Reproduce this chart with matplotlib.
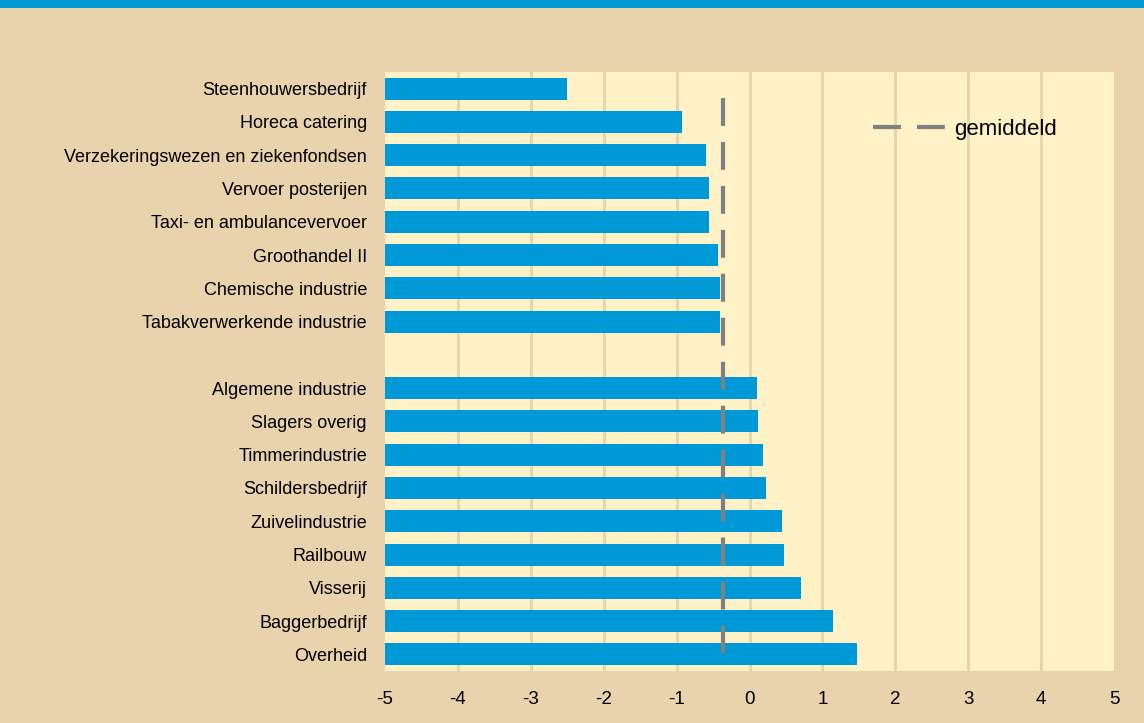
import matplotlib
matplotlib.use("Agg")
import matplotlib.pyplot as plt
from matplotlib.lines import Line2D
import numpy as np

categories = [
    "Steenhouwersbedrijf", "Horeca catering", "Verzekeringswezen en ziekenfondsen",
    "Vervoer posterijen", "Taxi- en ambulancevervoer", "Groothandel II",
    "Chemische industrie", "Tabakverwerkende industrie", "",
    "Algemene industrie", "Slagers overig", "Timmerindustrie", "Schildersbedrijf",
    "Zuivelindustrie", "Railbouw", "Visserij", "Baggerbedrijf", "Overheid",
]
values = [-2.51, -0.92, -0.59, -0.56, -0.56, -0.43, -0.40, -0.40, None,
          0.10, 0.12, 0.18, 0.23, 0.45, 0.48, 0.70, 1.14, 1.47]
average = -0.37
xticks = [-5, -4, -3, -2, -1, 0, 1, 2, 3, 4, 5]
legend_label = "gemiddeld"

BG = "#E8D3AD"
PLOT_BG = "#FFF2C6"
BAR = "#0099D8"
GRID = "#E8D5AE"
DASH = "#808080"

plt.rcParams['font.family'] = ['Liberation Sans', 'DejaVu Sans']

fig = plt.figure(figsize=(11.44, 7.23), dpi=100, facecolor=BG)
fig.patches.append(plt.Rectangle((0, 1 - 8/723), 1, 8/723, transform=fig.transFigure,
                                 facecolor="#0099D6", edgecolor="none", zorder=0))

ax = fig.add_axes([385/1144, 1 - 671/723, (1114-385)/1144, (671-72)/723])
ax.set_facecolor(PLOT_BG)

xmin = xticks[0]
for i, v in enumerate(values):
    if v is None:
        continue
    ax.barh(i, v - xmin, left=xmin, height=0.66, color=BAR, zorder=2)

for t in xticks[1:-1]:
    ax.axvline(t, color=GRID, lw=2.2, zorder=1)

DASHES = (6.7, 3.85)
ax.plot([average, average], [0.27, 17.1], color=DASH, lw=3.0, zorder=3,
        dashes=DASHES)

ax.set_xlim(xticks[0], xticks[-1])
ax.set_ylim(len(categories) - 0.5, -0.5)
ax.set_xticks(xticks)
ax.set_xticklabels([str(t) for t in xticks], fontsize=13.5)
ax.set_yticks(range(len(categories)))
ax.set_yticklabels(categories, fontsize=13)
ax.tick_params(axis='both', length=0, colors="black")
ax.tick_params(axis='x', pad=14.5)
ax.tick_params(axis='y', pad=13)
for s in ax.spines.values():
    s.set_visible(False)

handle = Line2D([0], [0], color=DASH, lw=3.0, dashes=DASHES)
leg = ax.legend([handle], [legend_label], loc="center left",
                bbox_to_anchor=((882 - 385) / 729 - 0.012, 1 - (129 - 72) / 599),
                frameon=False, fontsize=16, handlelength=3.3, handletextpad=0.35,
                borderpad=0.0, borderaxespad=0.0)

fig.savefig("out.png", dpi=100, facecolor=BG)
